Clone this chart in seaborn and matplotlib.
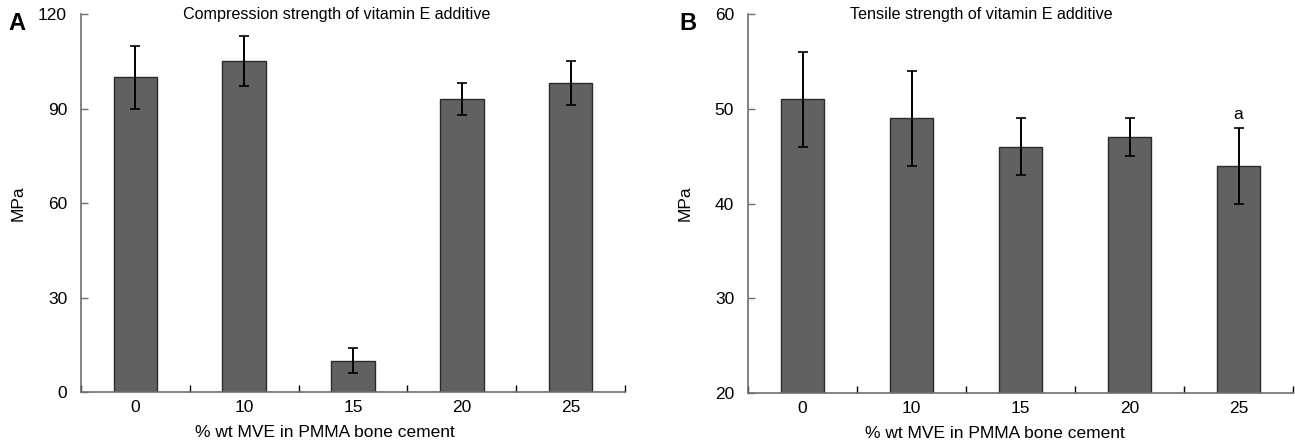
import matplotlib
matplotlib.use("Agg")
import matplotlib.pyplot as plt
import numpy as np
import pandas as pd
import seaborn as sns

# ---- data ----
doses = ["0", "10", "15", "20", "25"]
compression_mean = [100, 105, 10, 93, 98]
compression_err = [10, 8, 4, 5, 7]
tensile_mean = [51, 49, 46, 47, 44]
tensile_err = [5, 5, 3, 2, 4]
compression_ticks = [0, 30, 60, 90, 120]
tensile_ticks = [20, 30, 40, 50, 60]

BAR = "#616161"
EDGE = "#2b2b2b"
SPINE = "#6e6e6e"

sns.set_style("white")
plt.rcParams["font.family"] = ["Liberation Sans", "DejaVu Sans"]
plt.rcParams["text.color"] = "black"
plt.rcParams["axes.labelcolor"] = "black"
plt.rcParams["xtick.color"] = "black"
plt.rcParams["ytick.color"] = "black"


def panel(ax, means, errs, yticks, title, xlab_x):
    df = pd.DataFrame({"dose": doses, "mpa": means})
    sns.barplot(data=df, x="dose", y="mpa", order=doses, color=BAR,
                width=0.4, edgecolor=EDGE, linewidth=1.0, saturation=1,
                ax=ax, zorder=2)
    ax.errorbar(np.arange(len(doses)), means, yerr=errs, fmt="none",
                ecolor="black", elinewidth=1.4, capsize=3.5, capthick=1.2,
                zorder=3)
    ax.set_xlim(-0.5, len(doses) - 0.5)
    ax.set_ylim(yticks[0], yticks[-1])
    ax.set_yticks(yticks)
    ax.set_xticks(np.arange(-0.5, len(doses)), minor=True)
    for s in ("top", "right"):
        ax.spines[s].set_visible(False)
    for s in ("left", "bottom"):
        ax.spines[s].set_color(SPINE)
        ax.spines[s].set_linewidth(1.2)
    ax.tick_params(axis="x", which="major", bottom=True, length=0, pad=6,
                   labelsize=12.5, labelcolor="black")
    ax.tick_params(axis="x", which="minor", bottom=True, direction="in",
                   length=5, width=1, color="black")
    ax.tick_params(axis="y", left=True, direction="in", length=5, width=1,
                   color=SPINE, pad=10, labelsize=12.5, labelcolor="black")
    ax.set_xlabel("% wt MVE in PMMA bone cement", fontsize=12.5)
    ax.set_ylabel("MPa", fontsize=12.5)
    ax.xaxis.label.set_va("center")
    ax.yaxis.label.set_va("center")
    ax.xaxis.set_label_coords(xlab_x, -0.106)
    ax.yaxis.set_label_coords(-0.116, 0.5)
    ax.text(0.188, yticks[-1], title, transform=ax.get_yaxis_transform(),
            ha="left", va="center", fontsize=11.6)


fig = plt.figure(figsize=(12.95, 4.41), dpi=100)
ax_a = fig.add_axes([81 / 1295, 49 / 441, 544 / 1295, 378 / 441])
ax_b = fig.add_axes([748 / 1295, 48 / 441, 545 / 1295, 379 / 441])

panel(ax_a, compression_mean, compression_err, compression_ticks,
      "Compression strength of vitamin E additive", 0.449)
panel(ax_b, tensile_mean, tensile_err, tensile_ticks,
      "Tensile strength of vitamin E additive", 0.453)

# significance mark on the 25 % bar
ax_b.text(4, tensile_mean[4] + tensile_err[4] + 0.6, "a",
          ha="center", va="bottom", fontsize=12.5)

fig.text(8 / 1295, 1 - 23 / 441, "A", fontsize=17, fontweight="bold",
         ha="left", va="center")
fig.text(679 / 1295, 1 - 23 / 441, "B", fontsize=17, fontweight="bold",
         ha="left", va="center")

fig.savefig("out.png", dpi=100)
